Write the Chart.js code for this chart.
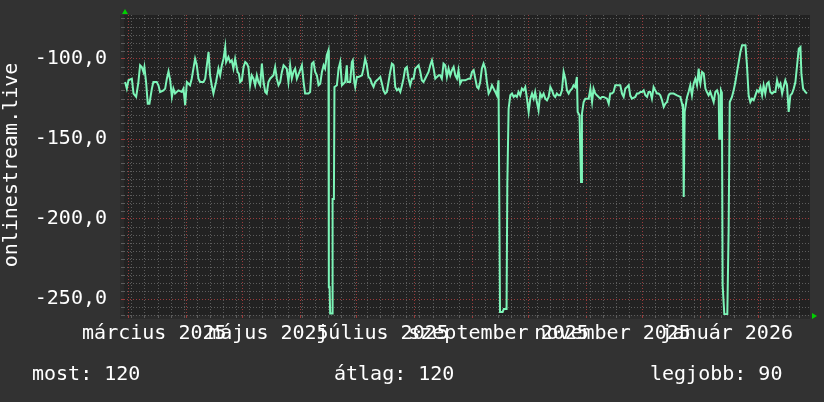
<!DOCTYPE html>
<html lang="hu">
<head>
  <meta charset="UTF-8">
  <title>onlinestream.live</title>
  <script src="https://cdn.jsdelivr.net/npm/chart.js@4"></script>
  <style>
    body {
      margin: 0;
      background-color: #323232;
    }

    #keret {
      position: relative;
      width: 824px;
      height: 402px;
    }

    .jelmagyarazat {
      position: absolute;
      top: 361px;
      color: #ffffff;
      font-family: 'DejaVu Sans Mono', monospace;
      font-size: 20px;
      line-height: 24px;
      white-space: pre;
    }
  </style>
</head>
<body>
  <div id="keret">
    <canvas id="grafikon" width="824" height="402"></canvas>
    <span class="jelmagyarazat" id="most" style="left: 32px;"></span>
    <span class="jelmagyarazat" id="atlag" style="left: 334px;"></span>
    <span class="jelmagyarazat" id="legjobb" style="left: 650px;"></span>
  </div>

  <script>
    // napok 2025. március 1-től számolva
    const days = [
      -1.6, -0.7, 0.2, 2.0, 2.9, 4.3, 5.5, 6.4, 7.3, 8.2, 8.7, 9.6, 10.5, 11.4, 12.7, 13.5, 15.3, 16.2, 17.1, 18.9,
      19.8, 20.7, 21.6, 22.5, 23.4, 24.2, 25.1, 26.9, 28.7, 29.6, 30.5, 31.4, 33.1, 34.0, 34.9, 35.8, 36.7, 37.6, 38.5, 40.3,
      41.2, 42.1, 43.0, 43.8, 44.7, 45.6, 47.0, 48.3, 49.2, 50.1, 51.0, 51.9, 52.4, 53.6, 54.5, 55.4, 56.3, 57.2, 58.5, 59.2,
      59.9, 60.8, 61.7, 62.6, 63.5, 64.3, 65.2, 66.1, 67.0, 67.9, 68.8, 69.7, 70.6, 71.5, 72.4, 73.3, 74.1, 75.0, 75.9, 77.7,
      78.6, 79.5, 80.4, 81.3, 82.2, 83.1, 84.8, 85.7, 86.6, 87.5, 88.4, 89.3, 90.2, 91.6, 92.9, 93.8, 94.6, 96.4, 97.3, 98.2,
      99.1, 100.0, 100.9, 101.8, 102.7, 103.6, 104.5, 105.3, 106.2, 107.1, 107.3, 107.7, 108.0, 109.0, 109.3, 110.0, 110.3, 111.6, 112.5, 113.4,
      114.3, 116.0, 116.9, 117.3, 118.7, 119.6, 120.1, 120.9, 121.4, 122.3, 123.2, 125.0, 125.8, 126.7, 127.6, 128.5, 129.4, 130.3, 131.2, 132.1,
      133.0, 133.9, 134.8, 135.7, 136.5, 137.4, 138.3, 139.2, 140.1, 141.0, 141.9, 142.8, 143.7, 144.6, 145.5, 146.4, 147.2, 148.1, 149.0, 149.9,
      150.8, 151.7, 152.6, 153.5, 154.4, 155.3, 156.2, 157.0, 157.9, 158.8, 159.7, 160.6, 161.5, 162.4, 163.3, 164.2, 165.1, 166.0, 166.8, 167.7,
      168.6, 169.5, 170.4, 171.3, 172.2, 173.1, 174.0, 174.9, 175.8, 176.6, 177.5, 178.4, 180.2, 182.0, 182.9, 183.8, 184.7, 185.6, 186.5, 187.3,
      188.2, 189.1, 190.0, 190.9, 191.8, 192.7, 193.6, 194.5, 195.4, 196.3, 197.1, 198.0, 198.8, 200.2, 200.8, 202.3, 202.7, 203.4, 204.3, 205.2,
      206.1, 206.9, 207.8, 208.7, 209.6, 210.5, 211.4, 212.3, 213.2, 214.1, 215.0, 215.9, 216.8, 217.6, 218.5, 219.4, 220.3, 221.2, 222.1, 223.0,
      223.9, 224.8, 225.7, 226.6, 227.5, 228.3, 229.2, 230.1, 231.0, 231.9, 232.8, 233.7, 234.6, 235.5, 236.4, 237.3, 238.1, 239.0, 239.9, 240.3,
      241.3, 242.1, 242.6, 243.5, 244.4, 246.2, 247.1, 248.0, 248.8, 249.7, 250.6, 252.4, 253.3, 254.2, 256.0, 256.9, 257.7, 258.6, 259.5, 260.4,
      262.2, 263.1, 264.0, 264.9, 265.8, 266.7, 267.6, 268.4, 269.3, 271.1, 272.0, 272.9, 273.8, 274.7, 275.6, 276.5, 277.4, 278.2, 279.1, 280.0,
      280.9, 281.8, 282.7, 283.6, 284.5, 285.4, 286.3, 287.2, 288.1, 288.9, 289.8, 291.6, 293.4, 295.2, 296.1, 296.6, 297.0, 297.5, 298.8, 299.6,
      300.5, 301.4, 302.3, 303.2, 304.1, 305.0, 305.5, 305.9, 306.8, 307.7, 308.6, 309.4, 310.3, 311.2, 312.1, 313.0, 313.9, 314.8, 315.7, 316.0,
      316.5, 316.9, 317.4, 317.8, 318.7, 320.3, 321.0, 321.6, 322.8, 323.7, 324.6, 325.5, 326.4, 327.3, 328.2, 330.0, 330.8, 331.7, 332.6, 333.5,
      334.4, 335.3, 336.2, 337.1, 338.0, 338.9, 339.7, 340.6, 341.5, 342.4, 343.3, 344.2, 345.1, 346.0, 346.9, 347.8, 348.7, 349.6, 350.4, 351.3,
      352.2, 353.1, 354.0, 354.9, 355.8, 356.7, 357.6, 358.5, 359.4, 359.9, 360.8, 362.0, 362.9
    ];

    const ping = [
      -114.4, -118.5, -113.3, -112.3, -121.6, -123.7, -114.4, -103.9, -105, -108.1, -105, -114.4, -127.9, -127.9, -118.5, -114.4, -114.4, -116.4, -120.6, -119.6,
      -118.5, -112.3, -107.7, -113.3, -123.7, -118.5, -121.6, -119.6, -120.6, -118.5, -128.9, -114.4, -116.4, -112.3, -106, -99.8, -103.9, -112.3, -114.4, -114.4,
      -112.3, -103.9, -95.6, -110.2, -116.4, -121.6, -114.4, -106, -110.2, -103.9, -99.8, -92.5, -101.9, -98.7, -101.9, -100.8, -106, -99.8, -108.1, -109.1,
      -114.4, -113.3, -105, -101.9, -102.9, -105, -116.4, -110.2, -112.3, -116.4, -110.2, -114.4, -116.4, -102.9, -114.4, -120.6, -121.6, -114.4, -112.3, -110.2,
      -105, -112.3, -116.4, -114.4, -108.1, -103.9, -106, -114.4, -103.9, -112.3, -108.1, -106, -112.3, -108.1, -103.9, -114.4, -121.6, -121.6, -120.6, -102.9,
      -101.9, -108.1, -110.2, -116.4, -115.4, -108.1, -103.9, -106, -97.7, -94.6, -242.5, -242.5, -259, -259, -187.5, -187.5, -117.5, -116.4, -106, -101.9,
      -116.4, -114.4, -103.9, -114.4, -114.4, -101.9, -100.8, -114.4, -117.5, -111.2, -111.2, -110.2, -106, -99.8, -103.9, -111.2, -112.3, -115.4, -117.5, -114.4,
      -113.3, -112.3, -111.2, -115.4, -119.6, -121.6, -120.6, -114.4, -108.1, -102.9, -103.9, -117.5, -119.6, -118.5, -120.6, -116.4, -112.3, -106, -105, -112.3,
      -116.4, -112.3, -112.3, -106, -105, -103.9, -108.1, -113.3, -114.4, -112.3, -110.2, -108.1, -103.9, -100.8, -106, -112.3, -111.2, -110.2, -110.2, -112.3,
      -102.9, -103.9, -111.2, -106, -110.2, -107, -105, -110.2, -112.3, -107, -115.4, -113.3, -113.3, -112.3, -112.3, -108.1, -107, -112.3, -117.5, -118.5,
      -114.4, -106, -102.9, -106, -114.4, -121.6, -119.6, -116.4, -118.5, -120.6, -122.7, -113.3, -258.1, -258.1, -256.3, -256.3, -177.9, -131, -122.7, -121.6,
      -123.7, -122.7, -123.7, -120.6, -122.7, -118.5, -119.6, -117.5, -124.8, -133.1, -124.8, -121.6, -124.8, -120.6, -126.9, -132.1, -121.6, -123.7, -121.6, -124.8,
      -125.8, -123.7, -117.5, -119.6, -122.7, -123.7, -121.6, -122.7, -122.7, -119.6, -108.1, -112.3, -119.6, -121.6, -119.6, -118.5, -116.4, -117.5, -111.2, -133.1,
      -135.2, -176.9, -134.2, -126.9, -124.8, -124.8, -118.5, -126.9, -118.5, -121.6, -122.7, -124.8, -123.7, -123.7, -124.8, -127.9, -121.6, -121.6, -120.6, -116.4,
      -116.4, -116.4, -121.6, -123.7, -118.5, -117.5, -116.4, -122.7, -124.8, -123.7, -121.6, -121.6, -120.6, -120.6, -119.6, -122.7, -123.7, -120.6, -120.6, -124.8,
      -117.5, -119.6, -121.6, -121.6, -122.7, -125.8, -130, -127.9, -126.9, -122.7, -121.6, -121.6, -122.7, -123.7, -127.9, -131.1, -186.3, -133.1, -123.7, -120.6,
      -116.4, -122.7, -115.4, -112.3, -116.4, -106, -113.3, -115.4, -108.1, -109.1, -118.5, -120.6, -122.7, -120.6, -123.7, -126.9, -120.6, -119.6, -122.7, -149.8,
      -149.8, -119.6, -121, -241.3, -259.5, -259.5, -207, -126.9, -123.7, -119.6, -114.4, -108.1, -101.9, -95.6, -91.4, -91.4, -103.9, -122.7, -126.9, -124.8,
      -125.8, -122.7, -119.6, -120.6, -117.5, -122.7, -116.4, -121.6, -115.4, -114.4, -120.6, -121.6, -120.6, -120.6, -113.3, -117.5, -115.4, -121.6, -117.5, -113.3,
      -116.4, -133.1, -122.7, -121.6, -118.5, -114.4, -103.9, -93.5, -92.5, -109.1, -118.5, -120.6, -121.6
    ];

    // hónapok kezdete (nap) és a feliratok helye (hónap közepe)
    const monthStarts = [0, 31, 61, 92, 122, 153, 184, 214, 245, 275, 306, 337];
    const labelDays = [14, 75, 136, 198, 259, 320];
    const labelTexts = ["március 2025", "május 2025", "július 2025", "szeptember 2025", "november 2025", "január 2026"];
    const firstMonday = 2;

    const yTicks = [-100, -150, -200, -250];
    const summary = { most: "most: 120", atlag: "átlag: 120", legjobb: "legjobb: 90" };

    document.getElementById("most").textContent = summary.most;
    document.getElementById("atlag").textContent = summary.atlag;
    document.getElementById("legjobb").textContent = summary.legjobb;

    const BETU = "'DejaVu Sans Mono', monospace";
    const VONAL = "#7df5b8";
    const PIROS = "#9a3b3b";
    const SZURKE = "#5c5c5c";

    Chart.defaults.font.family = BETU;
    Chart.defaults.font.size = 20;
    Chart.defaults.color = "#ffffff";

    // hátterek és a kis zöld nyilak
    const hatter = {
      id: "hatter",
      beforeDraw(chart) {
        const { ctx, chartArea: a } = chart;
        ctx.save();
        ctx.fillStyle = "#323232";
        ctx.fillRect(0, 0, chart.width, chart.height);
        ctx.fillStyle = "#2a2a2a";
        ctx.fillRect(a.left - 4, a.top, a.right - a.left + 4, a.bottom - a.top + 4);
        ctx.fillStyle = "#222222";
        ctx.fillRect(a.left, a.top, a.right - a.left, a.bottom - a.top);
        ctx.restore();
      },
      afterDraw(chart) {
        const { ctx, chartArea: a } = chart;
        ctx.save();
        ctx.fillStyle = "#00d000";
        ctx.beginPath();
        ctx.moveTo(a.left - 2, a.top - 1);
        ctx.lineTo(a.left + 4, a.top - 1);
        ctx.lineTo(a.left + 1, a.top - 6);
        ctx.closePath();
        ctx.fill();
        ctx.beginPath();
        ctx.moveTo(a.right + 2, a.bottom - 2);
        ctx.lineTo(a.right + 2, a.bottom + 4);
        ctx.lineTo(a.right + 7, a.bottom + 1);
        ctx.closePath();
        ctx.fill();
        ctx.restore();
      }
    };

    const nincsPadding = (scale) => {
      scale.paddingTop = 0;
      scale.paddingBottom = 0;
      scale.paddingLeft = 0;
      scale.paddingRight = 0;
    };

    new Chart(document.getElementById("grafikon"), {
      type: "line",
      data: {
        datasets: [{
          data: days.map((d, i) => ({ x: d, y: ping[i] })),
          borderColor: VONAL,
          borderWidth: 2,
          pointRadius: 0,
          tension: 0,
          fill: false
        }]
      },
      plugins: [hatter],
      options: {
        responsive: false,
        animation: false,
        layout: { padding: { top: 15, right: 14, left: 0, bottom: 0 } },
        plugins: {
          legend: { display: false },
          tooltip: { enabled: false }
        },
        scales: {
          x: {
            type: "linear",
            min: -2.2,
            max: 364.5,
            afterBuildTicks: (scale) => {
              const t = [];
              for (let d = firstMonday; d < 365; d += 7) t.push({ value: d, kind: "het" });
              monthStarts.forEach(d => t.push({ value: d, kind: "honap" }));
              labelDays.forEach((d, i) => t.push({ value: d, kind: "felirat", text: labelTexts[i] }));
              t.sort((p, q) => p.value - q.value);
              scale.ticks = t;
            },
            afterFit: (scale) => { scale.height = 87; nincsPadding(scale); },
            ticks: {
              autoSkip: false,
              maxRotation: 0,
              minRotation: 0,
              padding: 4,
              color: "#ffffff",
              callback: (v, i, ticks) => ticks[i].kind === "felirat" ? ticks[i].text : ""
            },
            grid: {
              drawTicks: true,
              tickLength: 3,
              color: (c) => c.tick && c.tick.kind === "honap" ? PIROS : (c.tick && c.tick.kind === "het" ? SZURKE : "rgba(0,0,0,0)"),
              tickColor: (c) => c.tick && c.tick.kind === "honap" ? PIROS : (c.tick && c.tick.kind === "het" ? SZURKE : "rgba(0,0,0,0)")
            },
            border: { display: false, dash: [1, 2] }
          },
          y: {
            min: -260,
            max: -72.5,
            afterBuildTicks: (scale) => {
              const t = [];
              for (let v = -260; v <= -75; v += 5) t.push({ value: v });
              scale.ticks = t;
            },
            afterFit: (scale) => { scale.width = 124; nincsPadding(scale); },
            ticks: {
              autoSkip: false,
              padding: 14,
              color: "#ffffff",
              callback: (v) => yTicks.includes(v) ? v.toFixed(1).replace(".", ",") : ""
            },
            grid: {
              drawTicks: true,
              tickLength: 3,
              color: (c) => c.tick && c.tick.value % 50 === 0 ? PIROS : SZURKE,
              tickColor: (c) => c.tick && c.tick.value % 50 === 0 ? PIROS : SZURKE
            },
            border: { display: false, dash: [1, 2] },
            title: {
              display: true,
              text: "onlinestream.live",
              color: "#ffffff",
              padding: 0,
              font: { size: 20 }
            }
          }
        }
      }
    });
  </script>
</body>
</html>
